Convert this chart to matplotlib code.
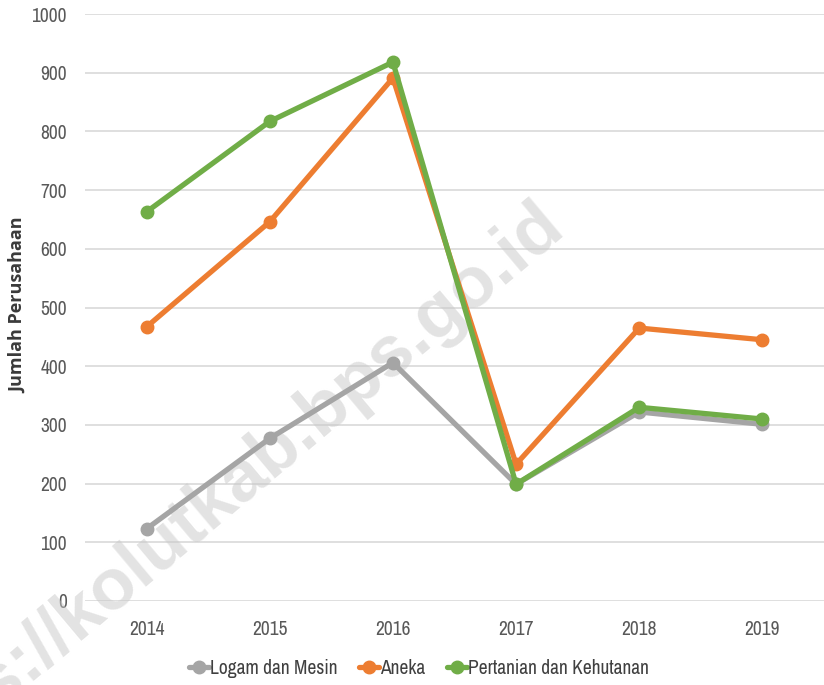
import matplotlib
matplotlib.use("Agg")
from matplotlib import pyplot as plt
from matplotlib import font_manager

years = ['2014', '2015', '2016', '2017', '2018', '2019']
logam = [123, 277, 406, 199, 322, 301]
aneka = [467, 646, 891, 233, 465, 445]
pertanian = [663, 817, 918, 199, 330, 310]

series_names = ['Logam dan Mesin', 'Aneka', 'Pertanian dan Kehutanan']
colors = ['#a5a5a5', '#ed7d31', '#70ad47']

# look for a narrow face, otherwise fall back to Liberation Sans
names = sorted({f.name for f in font_manager.fontManager.ttflist})
narrow = [n for n in names if 'Narrow' in n or 'Condensed' in n]
base = narrow[0] if narrow else 'Liberation Sans'
plt.rcParams['font.family'] = [base, 'DejaVu Sans']

W, H = 824, 685
fig = plt.figure(figsize=(W / 100, H / 100), dpi=100)
ax = fig.add_axes([85 / W, 84 / H, 739 / W, 587 / H])

x = list(range(len(years)))
for vals, name, c in zip([logam, aneka, pertanian], series_names, colors):
    ax.plot(x, vals, color=c, lw=3.8, marker='o', markersize=9, label=name,
            solid_capstyle='round', zorder=3)

ax.set_xlim(-0.5, len(years) - 0.5)
ax.set_ylim(0, 1000)
ax.set_yticks(range(0, 1001, 100))
ax.set_xticks(x)
ax.set_xticklabels(years)
ax.grid(axis='y', color='#d9d9d9', lw=1.2, zorder=0)
ax.set_axisbelow(True)
for s in ax.spines.values():
    s.set_visible(False)
fs = 14 if narrow else 12.5
ax.tick_params(axis='both', length=0, labelsize=fs, colors='#595959')
ax.tick_params(axis='y', pad=13)
ax.tick_params(axis='x', pad=14)

fig.text(18 / W, 1 - 305 / H, 'Jumlah Perusahaan', rotation=90, ha='center', va='center',
         fontsize=13, fontweight='bold', color='#3a3a3a', family=['Open Sans', 'DejaVu Sans'])

leg = fig.legend(loc='center', bbox_to_anchor=(419 / W, 1 - 668 / H), ncol=3, frameon=False,
                 fontsize=fs, handlelength=1.05, handletextpad=0.05, columnspacing=1.1)
for t in leg.get_texts():
    t.set_color('#404040')

# watermark, sits between the grid and the lines (pixel coords from bottom-left)
ax.text(566, H - 230, 'https://kolutkab.bps.go.id', transform=None, rotation=40, rotation_mode='anchor',
        ha='right', va='baseline', fontsize=52, fontweight='bold', color='#c8c8c8', alpha=0.5,
        family=['Liberation Sans', 'DejaVu Sans'], zorder=2, clip_on=False)

fig.savefig('out.png', dpi=100)
